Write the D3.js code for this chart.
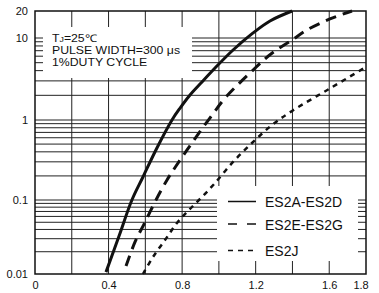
<!DOCTYPE html>
<html>
<head>
<meta charset="utf-8">
<title>Typical Forward Characteristics</title>
<script src="https://d3js.org/d3.v7.min.js"></script>
<style>
    body {
        margin: 0;
        background: #fff;
    }
    svg {
        display: block;
        font-family: Arial, "Liberation Sans", sans-serif;
    }
    .grid line {
        stroke: #222;
        stroke-width: 1;
    }
    .note {
        font-size: 10.5px;
        fill: #111;
    }
</style>
</head>
<body>
<svg id="chart" width="379" height="293"></svg>
<script>
    // values: forward voltage (V) vs forward current (A)
    const xLabels = [0, 0.4, 0.8, 1.2, 1.6, 1.8];
    const xGrid = [0.2, 0.4, 0.6, 0.8, 1.0, 1.2, 1.4, 1.6];
    const yLabels = [0.01, 0.1, 1, 10, 20];
    const yGrid = [0.02, 0.03, 0.04, 0.05, 0.06, 0.07, 0.08, 0.09,
                   0.1, 0.2, 0.3, 0.4, 0.5, 0.6, 0.7, 0.8, 0.9,
                   1, 2, 3, 4, 5, 6, 7, 8, 9, 10];
    const seriesNames = ['ES2A-ES2D', 'ES2E-ES2G', 'ES2J'];

    const es2aToD = [[0.386, 0.0106], [0.457, 0.0326], [0.527, 0.1], [0.587, 0.194],
                     [0.663, 0.447], [0.745, 1.0], [0.789, 1.40], [0.843, 2.02],
                     [0.908, 2.91], [0.979, 4.30], [1.077, 7.14], [1.186, 11.4],
                     [1.278, 15.5], [1.398, 20]];
    const es2eToG = [[0.495, 0.0128], [0.544, 0.0271], [0.593, 0.0473], [0.658, 0.1],
                     [0.718, 0.178], [0.767, 0.266], [0.827, 0.422], [0.892, 0.688],
                     [0.963, 1.15], [1.039, 1.91], [1.186, 4.07], [1.283, 6.38],
                     [1.398, 9.45], [1.479, 12.3], [1.604, 16.3], [1.724, 20]];
    const es2j = [[0.587, 0.01], [0.642, 0.017], [0.707, 0.0288], [0.772, 0.0489],
                  [0.837, 0.0733], [0.908, 0.109], [0.979, 0.163], [1.077, 0.299],
                  [1.18, 0.516], [1.289, 0.866], [1.398, 1.29], [1.599, 2.39],
                  [1.8, 4.43]];

    const svg = d3.select('#chart');

    const x = d3.scaleLinear().domain([0, 1.8]).range([35, 366]);
    // the printed log grid is not quite even, so each decade gets its own stretch
    const y = d3.scaleLog()
        .domain([0.01, 0.1, 1, 10, 20])
        .range([274, 200, 120, 38, 11]);

    // grid
    const grid = svg.append('g').attr('class', 'grid');
    grid.selectAll('.h').data(yGrid).join('line')
        .attr('class', 'h')
        .attr('x1', x(0)).attr('x2', x(1.8))
        .attr('y1', d => y(d)).attr('y2', d => y(d));
    grid.selectAll('.v').data(xGrid).join('line')
        .attr('class', 'v')
        .attr('x1', d => x(d)).attr('x2', d => x(d))
        .attr('y1', y(20)).attr('y2', y(0.01));

    // white boxes over the grid for the notes and the legend
    svg.append('rect')
        .attr('x', 43).attr('y', 27)
        .attr('width', 149).attr('height', 51)
        .attr('fill', '#fff');
    svg.append('rect')
        .attr('x', 217).attr('y', 186)
        .attr('width', 141).attr('height', 75)
        .attr('fill', '#fff');

    // frame
    svg.append('rect')
        .attr('x', x(0)).attr('y', y(20))
        .attr('width', x(1.8) - x(0)).attr('height', y(0.01) - y(20))
        .attr('fill', 'none')
        .attr('stroke', '#111')
        .attr('stroke-width', 1.5);

    // curves
    const line = d3.line()
        .x(d => x(d[0]))
        .y(d => y(d[1]))
        .curve(d3.curveCatmullRom.alpha(0.5));

    const styles = [
        { width: 3, dash: null },
        { width: 3, dash: '11,7' },
        { width: 2.5, dash: '5,5' }
    ];
    const allSeries = [es2aToD, es2eToG, es2j];

    svg.selectAll('.curve').data(allSeries).join('path')
        .attr('class', 'curve')
        .attr('d', line)
        .attr('fill', 'none')
        .attr('stroke', '#111')
        .attr('stroke-width', (d, i) => styles[i].width)
        .attr('stroke-dasharray', (d, i) => styles[i].dash);

    // legend
    const legendDash = [null, '9,10', '5,5'];
    const legendRows = [201.5, 224, 250.5];
    const legend = svg.append('g');
    seriesNames.forEach((name, i) => {
        legend.append('line')
            .attr('x1', 228).attr('x2', 256)
            .attr('y1', legendRows[i]).attr('y2', legendRows[i])
            .attr('stroke', '#111')
            .attr('stroke-width', 1.5)
            .attr('stroke-dasharray', legendDash[i]);
        legend.append('text')
            .attr('x', 265)
            .attr('y', legendRows[i] + 5.5)
            .attr('font-size', '14px')
            .attr('fill', '#111')
            .text(name);
    });

    // test conditions, one text per line; the print is a bit wide, so stretch it
    const noteLines = [42, 54, 66];
    const note = svg.append('g').attr('transform', 'translate(52,0) scale(1.17,1)');
    const tj = note.append('text')
        .attr('class', 'note')
        .attr('x', 0).attr('y', noteLines[0]);
    tj.append('tspan').text('T');
    tj.append('tspan').attr('font-size', '7.5px').text('J');
    tj.append('tspan').text('=25\u2103');
    note.append('text')
        .attr('class', 'note')
        .attr('x', 0).attr('y', noteLines[1])
        .text('PULSE WIDTH=300 \u03bcs');
    note.append('text')
        .attr('class', 'note')
        .attr('x', 0).attr('y', noteLines[2])
        .text('1%DUTY CYCLE');

    // axes labels
    const xAxis = svg.append('g')
        .attr('transform', `translate(0,${y(0.01)})`)
        .call(d3.axisBottom(x).tickValues(xLabels).tickSize(0).tickPadding(7)
            .tickFormat(d => d === 0 ? '0' : d3.format('.1f')(d)));
    const yAxis = svg.append('g')
        .attr('transform', `translate(${x(0)},0)`)
        .call(d3.axisLeft(y).tickValues(yLabels).tickSize(0).tickPadding(7)
            .tickFormat(d => String(d)));

    [xAxis, yAxis].forEach(g => {
        g.select('.domain').remove();
        g.selectAll('text')
            .attr('font-family', 'Arial, "Liberation Sans", sans-serif')
            .attr('font-size', '11px')
            .attr('fill', '#111');
    });
    xAxis.selectAll('.tick').filter(d => d === 1.8)
        .select('text').attr('text-anchor', 'end').attr('dx', '0.2em');
</script>
</body>
</html>
